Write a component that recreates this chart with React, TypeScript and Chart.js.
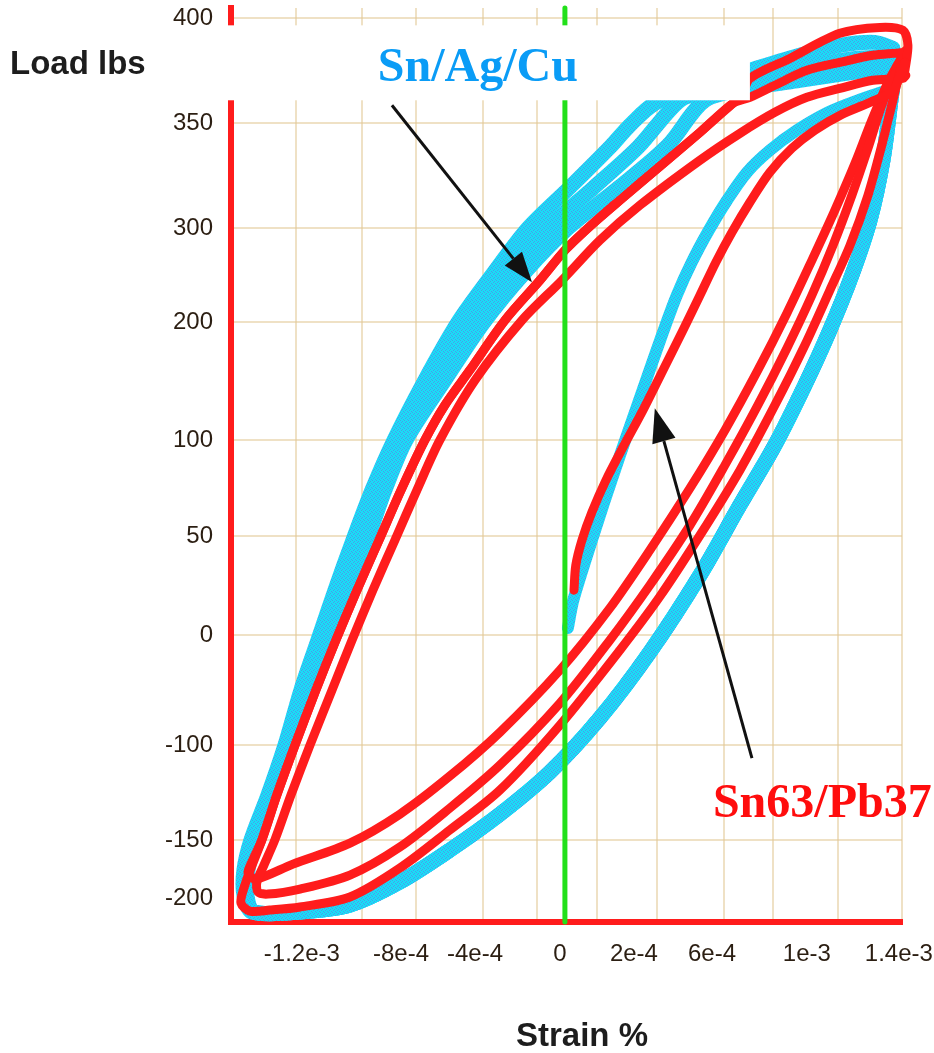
import React, { useEffect, useRef } from 'react';
import { Chart, registerables } from 'chart.js';

Chart.register(...registerables);

// ---- axis extents (strain given in units of 1e-3, load in lbs) ----
const STRAIN_MIN = -1.471;
const STRAIN_MAX = 1.485;
const LOAD_MIN = -215;
const LOAD_MAX = 407;

// printed tick labels and the axis value each one sits at in the figure
const xTickLabels = ['-1.2e-3', '-8e-4', '-4e-4', '0', '2e-4', '6e-4', '1e-3', '1.4e-3'];
const xLabelAt = [-1.159, -0.722, -0.396, -0.022, 0.304, 0.648, 1.066, 1.471];
const xGridAt = [-1.185, -0.894, -0.656, -0.361, -0.123, 0.141, 0.405, 0.7, 0.916, 1.203, 1.485];
const yTickLabels = ['-200', '-150', '-100', '0', '50', '100', '200', '300', '350', '400'];
const yLabelAt = [-198.6, -159.2, -94.6, -19.7, 47.6, 112.9, 193.2, 257.1, 328.6, 400];

// ---- Sn63/Pb37 (red) traces: [strain ×1e-3, load lbs] ----
const redInitial = [
  [0.04, 10.8], [0.048, 27.8], [0.075, 44.8], [0.119, 63.9], [0.181, 85.7], [0.256, 108.1],
  [0.344, 133.3], [0.432, 160.5], [0.52, 187.7], [0.595, 211.5], [0.665, 234.0], [0.736, 254.4],
  [0.815, 274.8], [0.903, 295.2], [1.0, 311.5], [1.101, 323.8], [1.22, 334.6], [1.344, 342.8],
  [1.445, 351.0], [1.498, 370.0],
];
const redCapOuter = [
  [1.498, 364.6], [1.511, 381.6], [1.489, 391.8], [1.388, 393.8], [1.211, 389.8], [0.991, 372.7],
  [0.815, 359.1], [0.78, 347.6],
];
const redCapA = [
  [1.502, 378.2], [1.489, 376.8], [1.357, 374.8], [1.211, 370.0], [1.066, 364.6], [0.925, 354.4],
  [0.815, 346.2],
];
const redUpperA = [
  [0.74, 342.1], [0.595, 322.4], [0.419, 299.3], [0.242, 276.1], [0.11, 258.4], [0, 242.1],
  [-0.11, 221.7], [-0.264, 194.5], [-0.419, 160.5], [-0.529, 136.7], [-0.617, 112.9], [-0.722, 78.9],
  [-0.819, 44.8], [-0.916, 10.8], [-1.009, -23.2], [-1.097, -57.2], [-1.189, -94.6], [-1.269, -128.6],
  [-1.335, -159.2],
];
const redUpperB = [
  [1.502, 361.2], [1.489, 359.1], [1.357, 357.8], [1.211, 352.3], [1.066, 346.2], [0.925, 336.0],
  [0.771, 321.7], [0.595, 303.4], [0.33, 272.7], [0.154, 248.9], [-0.013, 221.7], [-0.189, 194.5],
  [-0.396, 153.7], [-0.551, 112.9], [-0.652, 78.9], [-0.749, 44.8], [-0.846, 10.8], [-0.938, -23.2],
  [-1.026, -57.2], [-1.123, -94.6], [-1.207, -128.6], [-1.278, -159.2],
];
const redLower1 = [
  [-1.379, -174.2], [-1.396, -181.7], [-1.361, -185.8], [-1.198, -175.6], [-0.947, -161.3],
  [-0.727, -141.6], [-0.507, -115.7], [-0.286, -85.8], [-0.022, -43.6], [0.198, -1.4], [0.374, 38.0],
  [0.551, 80.2], [0.705, 119.7], [0.85, 160.5], [0.978, 199.3], [1.088, 235.3], [1.189, 269.3],
  [1.278, 301.3], [1.352, 330.6], [1.423, 356.4],
];
const redLower2 = [
  [-1.326, -176.3], [-1.357, -187.8], [-1.352, -194.6], [-1.308, -196.0], [-1.167, -192.6],
  [-0.947, -183.1], [-0.727, -164.0], [-0.507, -137.5], [-0.286, -108.2], [-0.022, -66.1],
  [0.198, -23.2], [0.374, 14.2], [0.551, 55.0], [0.705, 95.9], [0.85, 136.7], [0.978, 175.5],
  [1.088, 211.5], [1.181, 245.5], [1.264, 279.5], [1.335, 311.5], [1.396, 340.8], [1.458, 363.2],
];
const redLower3 = [
  [-1.383, -178.3], [-1.414, -191.9], [-1.427, -202.1], [-1.388, -207.6], [-1.3, -206.9],
  [-1.167, -204.8], [-0.947, -198.0], [-0.727, -178.3], [-0.507, -152.4], [-0.286, -125.2],
  [-0.022, -81.0], [0.242, -30.0], [0.419, 6.7], [0.595, 48.2], [0.771, 92.5], [0.925, 136.7],
  [1.057, 177.5], [1.167, 214.9], [1.256, 245.5], [1.335, 279.5], [1.396, 313.6], [1.445, 344.2],
  [1.485, 368.0],
];

// ---- Sn/Ag/Cu (cyan) traces ----
const cyanInitial = [
  [0.013, -15.0], [0.035, 2.7], [0.07, 21.0], [0.119, 44.8], [0.176, 72.0], [0.238, 100.6],
  [0.304, 129.9], [0.37, 159.1], [0.432, 186.3], [0.493, 211.5], [0.559, 234.0], [0.634, 255.7],
  [0.714, 276.1], [0.802, 295.2], [0.903, 310.2], [1.022, 323.8], [1.159, 336.0], [1.291, 344.2],
  [1.41, 350.3],
];
// upper (unloading) band: outer edge, middle, inner edge traces
const cyanUpper1 = [
  [1.445, 379.5], [1.366, 383.6], [1.211, 381.6], [1.035, 374.8], [0.815, 364.6], [0.595, 354.4],
  [0.396, 342.1], [0.286, 327.2], [0.198, 312.2], [0.022, 285.0], [-0.163, 257.1], [-0.322, 225.1],
  [-0.471, 193.1], [-0.617, 153.7], [-0.753, 112.9], [-0.85, 78.9], [-0.934, 44.8], [-1.013, 10.8],
  [-1.088, -23.2], [-1.163, -57.2], [-1.233, -94.6], [-1.308, -128.6], [-1.383, -159.2],
  [-1.414, -179.6], [-1.414, -196.7], [-1.379, -208.2],
];
const cyanUpper2 = [
  [1.436, 372.7], [1.352, 373.4], [1.211, 371.4], [1.035, 365.9], [0.815, 357.8], [0.639, 351.0],
  [0.507, 344.2], [0.322, 312.2], [0.123, 284.3], [-0.075, 257.1], [-0.256, 225.1], [-0.414, 193.1],
  [-0.573, 153.7], [-0.727, 112.9], [-0.824, 78.9], [-0.903, 44.8], [-0.991, 10.8], [-1.075, -23.2],
  [-1.154, -57.2], [-1.225, -94.6], [-1.3, -128.6], [-1.374, -159.2], [-1.405, -179.6],
  [-1.41, -196.7], [-1.374, -208.2],
];
const cyanUpper3 = [
  [1.432, 365.9], [1.344, 364.6], [1.211, 361.9], [1.035, 357.8], [0.815, 352.3], [0.617, 344.2],
  [0.454, 313.6], [0.233, 284.3], [0.013, 257.1], [-0.176, 227.2], [-0.357, 193.1], [-0.529, 153.7],
  [-0.7, 112.9], [-0.793, 78.9], [-0.872, 44.8], [-0.969, 10.8], [-1.062, -23.2], [-1.141, -57.2],
  [-1.211, -94.6], [-1.291, -128.6], [-1.366, -159.2], [-1.396, -179.6], [-1.401, -196.7],
  [-1.37, -208.2],
];
const cyanLower = [
  [-1.167, -208.2], [-0.947, -203.5], [-0.727, -187.8], [-0.507, -166.1], [-0.286, -141.6],
  [-0.066, -113.0], [0.154, -76.2], [0.374, -31.4], [0.595, 21.0], [0.771, 68.7], [0.925, 109.5],
  [1.057, 150.3], [1.167, 187.7], [1.264, 225.1], [1.344, 262.5], [1.401, 303.4], [1.436, 344.2],
  [1.454, 368.0],
];

const zeroStrainLine = [[0, LOAD_MIN], [0, LOAD_MAX]];

// ---- annotations (data coordinates) ----
const labelSnAgCu = { text: 'Sn/Ag/Cu', at: [-0.824, 357.1] };
const labelSnPb = { text: 'Sn63/Pb37', at: [0.652, -143.6] };
const arrowSnAgCu = { from: [-0.762, 340.8], to: [-0.145, 220.4] };
const arrowSnPb = { from: [0.824, -103.5], to: [0.396, 134.6] };
// pasted-over white patch at top-left of the plot
const patch = { strainEnd: 0.815, loadTop: 395.2, loadBottom: 344.2 };

const RED = '#FF1C1C';
const GREEN = '#22E01A';
const GRID = 'rgba(226, 200, 150, 0.55)';
const TICK_COLOR = '#2b1e12';
const SANS = '"Liberation Sans", Arial, sans-serif';
const SERIF = '"Liberation Serif", "Times New Roman", serif';

const pts = (arr: number[][]) => arr.map(([s, l]) => ({ x: s * 1e-3, y: l }));
const closed = (arr: number[][]) => [...arr, arr[0]];

function drawArrow(ctx: CanvasRenderingContext2D, x0: number, y0: number, x1: number, y1: number, len: number, half: number) {
  const a = Math.atan2(y1 - y0, x1 - x0);
  const bx = x1 - len * Math.cos(a);
  const by = y1 - len * Math.sin(a);
  ctx.strokeStyle = '#111';
  ctx.lineWidth = 3;
  ctx.beginPath();
  ctx.moveTo(x0, y0);
  ctx.lineTo(bx, by);
  ctx.stroke();
  ctx.fillStyle = '#111';
  ctx.beginPath();
  ctx.moveTo(x1, y1);
  ctx.lineTo(bx + half * Math.sin(a), by - half * Math.cos(a));
  ctx.lineTo(bx - half * Math.sin(a), by + half * Math.cos(a));
  ctx.closePath();
  ctx.fill();
}

const overlay = {
  id: 'overlay',
  afterDatasetsDraw(chart: any) {
    const { ctx, chartArea, scales } = chart;
    const xs = scales.x;
    const ys = scales.y;
    const px = (s: number) => xs.getPixelForValue(s * 1e-3);
    const py = (l: number) => ys.getPixelForValue(l);
    ctx.save();
    const bx0 = chartArea.left - 8;
    const bx1 = px(patch.strainEnd);
    const by0 = py(patch.loadTop);
    const by1 = py(patch.loadBottom);
    ctx.fillStyle = '#ffffff';
    ctx.fillRect(bx0, by0, bx1 - bx0, by1 - by0);
    drawArrow(ctx, px(arrowSnAgCu.from[0]), py(arrowSnAgCu.from[1]), px(arrowSnAgCu.to[0]), py(arrowSnAgCu.to[1]), 30, 11);
    drawArrow(ctx, px(arrowSnPb.from[0]), py(arrowSnPb.from[1]), px(arrowSnPb.to[0]), py(arrowSnPb.to[1]), 34, 12);
    ctx.textAlign = 'left';
    ctx.textBaseline = 'alphabetic';
    ctx.font = `bold 48px ${SERIF}`;
    ctx.fillStyle = '#0A9CF6';
    ctx.fillText(labelSnAgCu.text, px(labelSnAgCu.at[0]), py(labelSnAgCu.at[1]));
    ctx.fillStyle = '#FF0D0D';
    ctx.fillText(labelSnPb.text, px(labelSnPb.at[0]), py(labelSnPb.at[1]));
    ctx.fillStyle = '#1d1d1d';
    ctx.font = `bold 33px ${SANS}`;
    ctx.fillText('Load lbs', 10, 74);
    ctx.textAlign = 'center';
    ctx.fillText('Strain %', 582, 1046);
    ctx.restore();
  },
};

export default function App() {
  const ref = useRef<HTMLCanvasElement>(null);

  useEffect(() => {
    const canvas = ref.current;
    if (!canvas) return;
    const c2d = canvas.getContext('2d') as CanvasRenderingContext2D;
    const tile = document.createElement('canvas');
    tile.width = 4;
    tile.height = 4;
    const tg = tile.getContext('2d') as CanvasRenderingContext2D;
    tg.fillStyle = '#19DDF7';
    tg.fillRect(0, 0, 4, 4);
    tg.fillStyle = '#4A9DE8';
    [[0, 0], [2, 1], [1, 2], [3, 3]].forEach(([a, b]) => tg.fillRect(a, b, 1, 1));
    const CYAN: any = c2d.createPattern(tile, 'repeat') || '#25CDF3';

    const common = {
      showLine: true,
      pointRadius: 0,
      pointHoverRadius: 0,
      fill: false,
      tension: 0.3,
      clip: false,
      borderCapStyle: 'round',
      borderJoinStyle: 'round',
    };

    const chart = new Chart(canvas, {
      type: 'scatter',
      data: {
        datasets: [
          { ...common, label: 'strain 0', data: pts(zeroStrainLine), borderColor: GREEN, borderWidth: 5, tension: 0, order: 0 },
          { ...common, label: 'Sn63/Pb37 initial', data: pts(redInitial), borderColor: RED, borderWidth: 9, order: 1 },
          { ...common, label: 'Sn63/Pb37 cycle 1', data: pts(closed([...redCapOuter, ...redUpperA, ...redLower3])), borderColor: RED, borderWidth: 9, order: 1 },
          { ...common, label: 'Sn63/Pb37 cycle 2', data: pts(closed([...redUpperB, ...redLower2])), borderColor: RED, borderWidth: 9, order: 1 },
          { ...common, label: 'Sn63/Pb37 cycle 3', data: pts(closed([...redCapA, ...redUpperA, ...redLower1])), borderColor: RED, borderWidth: 9, order: 1 },
          { ...common, label: 'Sn/Ag/Cu initial', data: pts(cyanInitial), borderColor: CYAN, borderWidth: 12, order: 2 },
          { ...common, label: 'Sn/Ag/Cu cycle 1', data: pts(closed([...cyanUpper1, ...cyanLower])), borderColor: CYAN, borderWidth: 15, order: 2 },
          { ...common, label: 'Sn/Ag/Cu cycle 2', data: pts(closed([...cyanUpper2, ...cyanLower])), borderColor: CYAN, borderWidth: 15, order: 2 },
          { ...common, label: 'Sn/Ag/Cu cycle 3', data: pts(closed([...cyanUpper3, ...cyanLower])), borderColor: CYAN, borderWidth: 15, order: 2 },
        ] as any,
      },
      options: {
        responsive: false,
        animation: false,
        devicePixelRatio: 1,
        events: [],
        layout: { padding: { left: 0, right: 32, top: 8, bottom: 0 } },
        elements: { line: { capBezierPoints: false } as any },
        plugins: { legend: { display: false }, tooltip: { enabled: false } },
        scales: {
          x: {
            type: 'linear',
            position: 'bottom',
            min: STRAIN_MIN * 1e-3,
            max: STRAIN_MAX * 1e-3,
            afterBuildTicks: (s: any) => {
              s.ticks = xLabelAt.map((v) => ({ value: v * 1e-3 }));
            },
            afterFit: (s: any) => {
              s.height = 131;
              s.paddingLeft = 0;
              s.paddingRight = 0;
            },
            ticks: {
              autoSkip: false,
              maxRotation: 0,
              padding: 18,
              color: TICK_COLOR,
              font: { family: SANS, size: 24 },
              callback: (_v: any, i: number) => xTickLabels[i],
            },
            grid: { color: 'rgba(0,0,0,0)', drawTicks: false },
            border: { display: true, color: RED, width: 6 },
          },
          xg: {
            type: 'linear',
            position: 'bottom',
            axis: 'x',
            min: STRAIN_MIN * 1e-3,
            max: STRAIN_MAX * 1e-3,
            afterBuildTicks: (s: any) => {
              s.ticks = xGridAt.map((v) => ({ value: v * 1e-3 }));
            },
            afterFit: (s: any) => {
              s.height = 0;
              s.paddingLeft = 0;
              s.paddingRight = 0;
            },
            ticks: { display: false },
            grid: { color: GRID, lineWidth: 2, drawTicks: false },
            border: { display: false },
          },
          y: {
            type: 'linear',
            min: LOAD_MIN,
            max: LOAD_MAX,
            afterBuildTicks: (s: any) => {
              s.ticks = yLabelAt.map((v) => ({ value: v }));
            },
            afterFit: (s: any) => {
              s.width = 231;
              s.paddingTop = 0;
              s.paddingBottom = 0;
            },
            ticks: {
              autoSkip: false,
              padding: 18,
              color: TICK_COLOR,
              font: { family: SANS, size: 24 },
              callback: (_v: any, i: number) => yTickLabels[i],
            },
            grid: {
              color: (c: any) => (c.index === 0 ? 'rgba(0,0,0,0)' : GRID),
              lineWidth: 2,
              drawTicks: false,
            },
            border: { display: true, color: RED, width: 6 },
          },
        } as any,
      },
      plugins: [overlay],
    });
    return () => chart.destroy();
  }, []);

  return (
    <div style={{ position: 'absolute', left: 0, top: 0, width: 934, height: 1053, background: '#fff' }}>
      <canvas ref={ref} width={934} height={1053} style={{ display: 'block' }} />
    </div>
  );
}
